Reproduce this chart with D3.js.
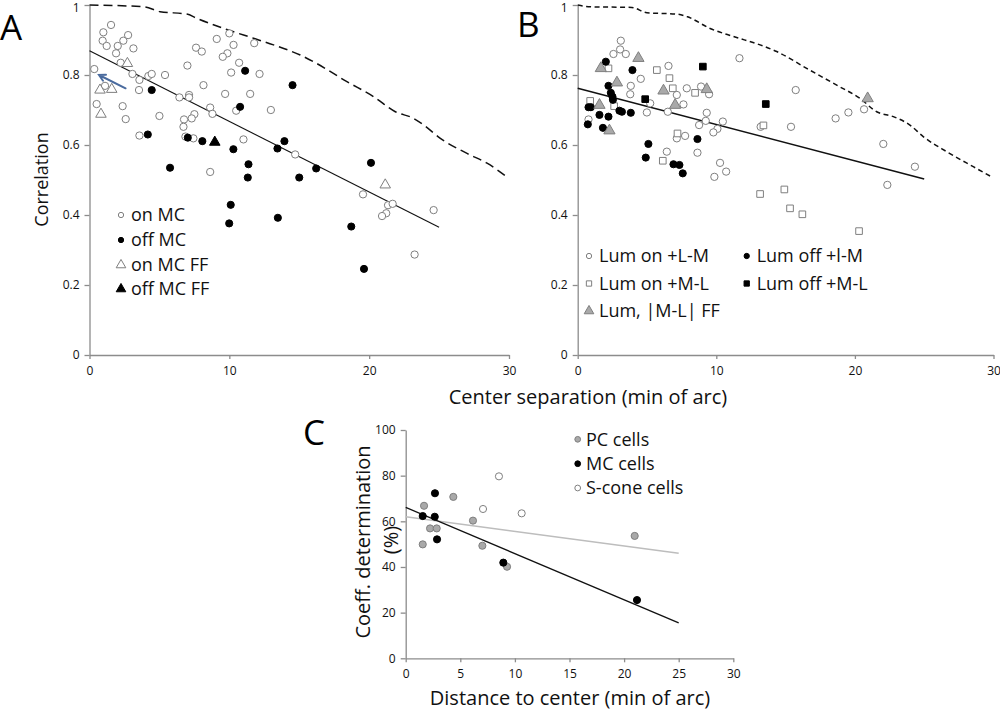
<!DOCTYPE html>
<html><head><meta charset="utf-8">
<script src="https://cdn.jsdelivr.net/npm/d3@7"></script>
<style>
html,body{margin:0;padding:0;background:#fff;}
svg{display:block;font-family:"Open Sans","Noto Sans",sans-serif;}
.axis path,.axis line{stroke:#8c8c8c;stroke-width:1.3;}
.axis text{font-size:12px;fill:#111;font-family:"Open Sans","Noto Sans",sans-serif;}
</style></head>
<body>
<svg id="chart" width="1000" height="710"></svg>
<script>
// ---------- Panel A data ----------
const onMC = [[1.54,0.943],[0.99,0.922],[0.94,0.898],[1.23,0.883],[2.02,0.883],[2.42,0.898],[2.76,0.914],[1.90,0.862],[3.14,0.876],[2.23,0.835],
[0.34,0.817],[3.07,0.803],[3.57,0.786],[3.54,0.757],[4.21,0.797],[4.45,0.803],[5.40,0.80],[1.11,0.769],[0.51,0.717],[2.37,0.711],
[2.59,0.674],[5.0,0.683],[3.57,0.627],[7.0,0.827],[7.62,0.878],[8.03,0.867],[9.10,0.903],[10.0,0.919],[10.3,0.886],[9.86,0.862],
[9.53,0.852],[10.7,0.835],[10.13,0.807],[11.78,0.891],[12.16,0.803],[8.15,0.771],[6.43,0.736],[7.12,0.743],[7.12,0.736],[9.70,0.746],
[11.49,0.746],[8.63,0.707],[8.79,0.689],[10.49,0.698],[12.97,0.70],[7.50,0.688],[7.31,0.676],[6.76,0.673],[6.72,0.652],[6.86,0.624],
[7.43,0.619],[11.01,0.616],[8.63,0.523],[14.71,0.573],[19.56,0.459],[21.35,0.428],[21.68,0.432],[21.22,0.405],[20.92,0.397],[24.61,0.414],[23.25,0.287]];
const offMC = [[4.45,0.757],[11.13,0.812],[14.52,0.771],[10.77,0.709],[4.17,0.630],[7.03,0.621],[8.07,0.611],[10.29,0.588],[13.44,0.590],[13.94,0.611],
[5.76,0.535],[11.37,0.545],[11.32,0.507],[15.0,0.507],[16.21,0.533],[20.13,0.549],[10.1,0.429],[9.99,0.376],[13.47,0.392],[18.72,0.367],[19.63,0.246]];
const onMCFF = [[2.71,0.833],[0.75,0.757],[1.59,0.759],[0.82,0.688],[21.15,0.486]];
const offMCFF = [[8.96,0.608]];
const arrowA = [[2.58,0.762],[0.68,0.80]];
const fitA = [[0,0.869],[25,0.365]];
const boundA = [[0,1.0],[3.85,0.995],[5.05,0.981],[6.96,0.974],[7.67,0.962],[9.82,0.93],[11.73,0.905],[13.16,0.886],[15.07,0.857],[16.02,0.838],[18.41,0.781],[20.32,0.738],[21.87,0.695],[23.18,0.676],[23.9,0.657],[25.09,0.619],[27.0,0.576],[28.43,0.548],[29.98,0.505]];
const legendA = ["on MC","off MC","on MC FF","off MC FF"];

// ---------- Panel B data ----------
const lumOnLM = [[3.11,0.898],[3.06,0.873],[2.58,0.86],[3.47,0.86],[3.83,0.769],[3.79,0.745],[4.55,0.789],[6.55,0.826],[5.23,0.719],[4.99,0.693],
[7.15,0.743],[6.5,0.695],[7.63,0.716],[7.87,0.762],[8.9,0.767],[9.48,0.745],[9.31,0.692],[8.76,0.657],[9.24,0.669],[10.47,0.667],
[10.08,0.646],[9.79,0.636],[7.75,0.626],[7.15,0.619],[6.43,0.581],[8.64,0.578],[10.27,0.549],[10.71,0.524],[9.86,0.509],[0.78,0.673],
[11.67,0.848],[15.73,0.757],[15.39,0.652],[18.61,0.676],[19.53,0.693],[20.66,0.702],[22.05,0.603],[24.33,0.538],[22.34,0.486],[13.2,0.652]];
const lumOnML = [[0.9,0.726],[2.22,0.819],[2.63,0.711],[5.71,0.814],[6.62,0.791],[6.86,0.762],[8.47,0.749],[7.2,0.633],[6.14,0.555],[13.4,0.656],
[13.16,0.46],[14.91,0.473],[15.32,0.419],[16.21,0.402],[20.3,0.354]];
const lumOffLM = [[2.03,0.838],[3.95,0.814],[2.22,0.769],[2.39,0.749],[2.51,0.738],[2.54,0.729],[0.78,0.708],[0.95,0.708],[3.01,0.698],[3.19,0.695],
[3.83,0.692],[1.57,0.686],[2.22,0.681],[0.73,0.659],[1.82,0.649],[5.1,0.603],[4.91,0.564],[8.64,0.617],[6.91,0.545],[7.34,0.543],[7.58,0.519]];
const lumOffML = [[4.87,0.731],[9.03,0.824],[13.57,0.717]];
const lumFF = [[1.67,0.819],[4.38,0.848],[2.83,0.778],[1.57,0.714],[2.29,0.641],[6.19,0.755],[7.03,0.714],[9.31,0.759],[20.92,0.733]];
const fitB = [[0,0.762],[25,0.503]];
const boundB = [[0,1.0],[0.9,0.995],[3.9,0.993],[4.99,0.978],[7.15,0.974],[7.87,0.967],[9.55,0.933],[11.23,0.91],[13.16,0.886],[14.36,0.867],[16.52,0.819],[18.69,0.771],[20.37,0.733],[21.57,0.695],[22.77,0.681],[23.97,0.657],[24.93,0.624],[26.62,0.581],[28.54,0.538],[29.86,0.509]];
const legendB = ["Lum on +L-M","Lum off +l-M","Lum on +M-L","Lum off +M-L","Lum, |M-L| FF"];

// ---------- Panel C data ----------
const pcCells = [[1.68,66.8],[1.56,49.9],[2.23,56.9],[2.84,56.9],[4.36,70.7],[6.16,60.3],[7.02,49.3],[9.28,40.1],[20.97,53.6]];
const mcCells = [[1.56,62.3],[2.68,72.3],[2.66,62.0],[2.87,52.1],[8.94,41.9],[21.18,25.5]];
const sCone = [[8.54,79.7],[7.08,65.4],[10.62,63.5]];
const fitMC = [[0,66.1],[25,15.5]];
const fitPC = [[0,62.0],[25,46.0]];
const legendC = ["PC cells","MC cells","S-cone cells"];

// ---------- ticks ----------
const ticksAB_x = [0,10,20,30];
const ticksAB_y = [0,0.2,0.4,0.6,0.8,1];
const ticksAB_yLabels = ["0","0.2","0.4","0.6","0.8","1"];
const ticksC_x = [0,5,10,15,20,25,30];
const ticksC_y = [0,20,40,60,80,100];

const svg = d3.select("#chart");
const GRAY = "#7f7f7f", GFILL = "#a9a9a9", ARROW = "#4a6b9e";

const xA = d3.scaleLinear().domain([0,30]).range([89.5,509]);
const yA = d3.scaleLinear().domain([0,1]).range([355,5]);
const xB = d3.scaleLinear().domain([0,30]).range([577.7,993.5]);
const yB = d3.scaleLinear().domain([0,1]).range([355,5]);
const xC = d3.scaleLinear().domain([0,30]).range([405.7,733.3]);
const yC = d3.scaleLinear().domain([0,100]).range([658.3,430]);

function axes(x, y, xt, yt, ylab){
  svg.append("g").attr("class","axis").attr("transform",`translate(0,${y.range()[0]})`)
    .call(d3.axisBottom(x).tickValues(xt).tickSize(4).tickSizeOuter(0).tickPadding(7).tickFormat(d3.format("d")));
  const g = svg.append("g").attr("class","axis").attr("transform",`translate(${x.range()[0]},0)`)
    .call(d3.axisLeft(y).tickValues(yt).tickSize(5).tickSizeOuter(0).tickPadding(5)
      .tickFormat((d,i)=> ylab ? ylab[i] : d3.format("d")(d)));
  // keep the topmost label inside the page
  g.selectAll(".tick text").filter(d => y(d) < 8).attr("dy","0.5em");
}
function pts(data, x, y, kind, fill, stroke, size){
  svg.append("g").selectAll("path").data(data).join("path")
    .attr("transform", d=>`translate(${x(d[0])},${y(d[1])})`)
    .attr("d", d3.symbol().type(kind).size(size))
    .attr("fill", fill).attr("stroke", stroke).attr("stroke-width", 1);
}
function line(data, x, y, color, w, dash, curve){
  svg.append("path").datum(data)
    .attr("d", d3.line().x(d=>x(d[0])).y(d=>y(d[1])).curve(curve||d3.curveLinear))
    .attr("fill","none").attr("stroke",color).attr("stroke-width",w)
    .attr("stroke-dasharray", dash||null);
}
function legendItem(mx, tx, y, kind, fill, stroke, size, label, fs){
  svg.append("path").attr("transform",`translate(${mx},${y})`)
    .attr("d", d3.symbol().type(kind).size(size)).attr("fill",fill).attr("stroke",stroke).attr("stroke-width",1);
  svg.append("text").attr("x",tx).attr("y",y).attr("dy","0.36em")
    .attr("font-size",fs).attr("fill","#111").text(label);
}
function title(txt, cx, cy, fs, rot){
  svg.append("text").attr("transform",`translate(${cx},${cy}) rotate(${rot||0})`)
    .attr("text-anchor","middle").attr("dy","0.35em").attr("font-size",fs).attr("fill","#111").text(txt);
}

// ---------- Panel A ----------
axes(xA, yA, ticksAB_x, ticksAB_y, ticksAB_yLabels);
line(boundA, xA, yA, "#111", 1.5, "9,5", d3.curveMonotoneX);
line(fitA, xA, yA, "#111", 1.1);
pts(onMC, xA, yA, d3.symbolCircle, "#fff", GRAY, 42);
pts(offMC, xA, yA, d3.symbolCircle, "#000", "#000", 40);
pts(onMCFF, xA, yA, d3.symbolTriangle, "#fff", GRAY, 48);
pts(offMCFF, xA, yA, d3.symbolTriangle, "#000", "#000", 48);
{
  const x1=xA(arrowA[0][0]), y1=yA(arrowA[0][1]), x2=xA(arrowA[1][0]), y2=yA(arrowA[1][1]);
  const ang=Math.atan2(y1-y2,x1-x2), L=7, s=0.5;
  svg.append("path").attr("d",`M${x1},${y1}L${x2},${y2}M${x2+L*Math.cos(ang+s)},${y2+L*Math.sin(ang+s)}L${x2},${y2}L${x2+L*Math.cos(ang-s)},${y2+L*Math.sin(ang-s)}`)
    .attr("fill","none").attr("stroke",ARROW).attr("stroke-width",2).attr("stroke-linecap","round");
}
legendItem(121,131,215,d3.symbolCircle,"#fff",GRAY,22,legendA[0],18);
legendItem(121,131,240,d3.symbolCircle,"#000","#000",22,legendA[1],18);
legendItem(121,131,265,d3.symbolTriangle,"#fff",GRAY,40,legendA[2],18);
legendItem(121,131,289,d3.symbolTriangle,"#000","#000",40,legendA[3],18);
title("Correlation", 42, 179.5, 18, -90);
svg.append("text").attr("x",0).attr("y",40).attr("font-size",35).attr("fill","#000").text("A");

// ---------- Panel B ----------
axes(xB, yB, ticksAB_x, ticksAB_y, ticksAB_yLabels);
line(boundB, xB, yB, "#111", 1.5, "5,3.5", d3.curveMonotoneX);
line(fitB, xB, yB, "#111", 1.6);
pts(lumOnLM, xB, yB, d3.symbolCircle, "#fff", GRAY, 42);
pts(lumOnML, xB, yB, d3.symbolSquare, "#fff", GRAY, 44);
pts(lumOffLM, xB, yB, d3.symbolCircle, "#000", "#000", 40);
pts(lumOffML, xB, yB, d3.symbolSquare, "#000", "#000", 44);
pts(lumFF, xB, yB, d3.symbolTriangle, GFILL, GRAY, 55);
legendItem(589,599,256,d3.symbolCircle,"#fff",GRAY,22,legendB[0],18);
legendItem(746.7,756.7,256,d3.symbolCircle,"#000","#000",22,legendB[1],18);
legendItem(589,599,283.5,d3.symbolSquare,"#fff",GRAY,28,legendB[2],18);
legendItem(746.7,756.7,283.5,d3.symbolSquare,"#000","#000",28,legendB[3],18);
legendItem(589,599,311,d3.symbolTriangle,GFILL,GRAY,40,legendB[4],18);
svg.append("text").attr("x",517).attr("y",37).attr("font-size",35).attr("fill","#000").text("B");

title("Center separation (min of arc)", 588, 397, 20);

// ---------- Panel C ----------
axes(xC, yC, ticksC_x, ticksC_y, null);
line(fitPC, xC, yC, "#bdbdbd", 1.5);
line(fitMC, xC, yC, "#111", 1.3);
pts(pcCells, xC, yC, d3.symbolCircle, GFILL, GRAY, 40);
pts(mcCells, xC, yC, d3.symbolCircle, "#000", "#000", 40);
pts(sCone, xC, yC, d3.symbolCircle, "#fff", GRAY, 40);
legendItem(577.7,586,439.3,d3.symbolCircle,GFILL,GRAY,26,legendC[0],18);
legendItem(577.7,586,463.7,d3.symbolCircle,"#000","#000",26,legendC[1],18);
legendItem(577.7,586,488,d3.symbolCircle,"#fff",GRAY,26,legendC[2],18);
title("Coeff.  determination", 363, 542, 20, -90);
title("(%)", 391, 540, 20, -90);
title("Distance to center (min of arc)", 570, 698, 20);
svg.append("text").attr("x",303).attr("y",445).attr("font-size",35).attr("fill","#000").text("C");
</script>
</body></html>
